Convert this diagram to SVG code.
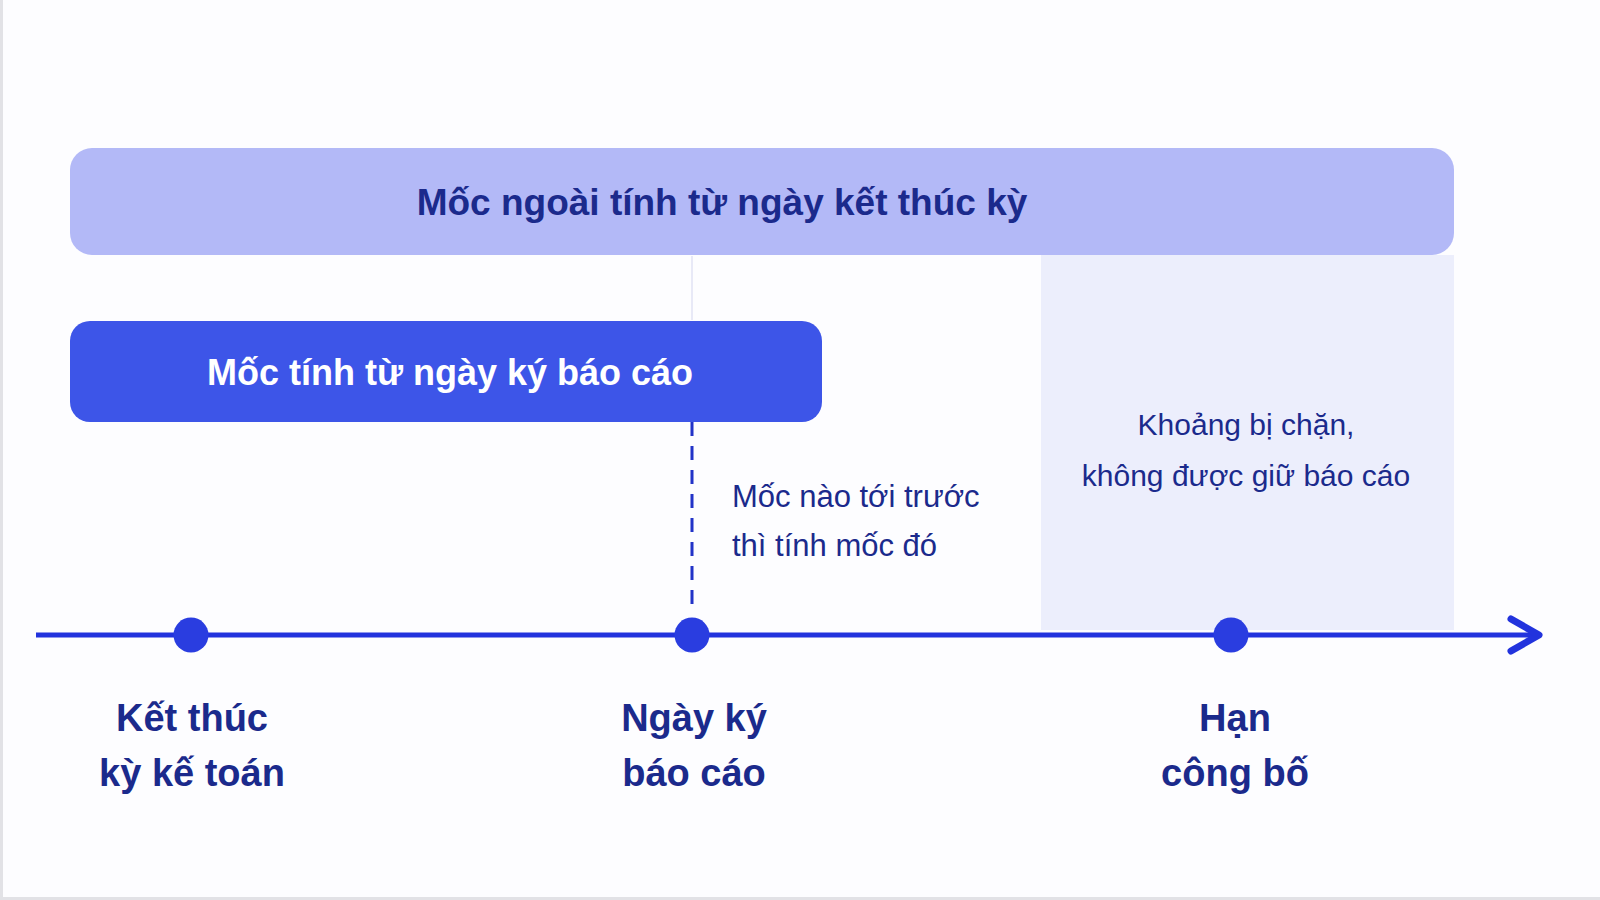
<svg xmlns="http://www.w3.org/2000/svg" width="1600" height="900" viewBox="0 0 1600 900">
  <defs>
    <style>
      .t { font-family: "Liberation Sans", "DejaVu Sans", sans-serif; }
      .title { font-size: 37px; font-weight: bold; fill: #1b2a8c; }
      .bar2 { font-size: 36px; font-weight: bold; fill: #ffffff; }
      .lab { font-size: 38px; font-weight: bold; fill: #1b2a8c; text-anchor: middle; }
      .note { font-size: 31px; fill: #1b2a8c; }
      .note2 { font-size: 30px; fill: #1b2a8c; }
      .dot { fill: #2a3de0; }
    </style>
  </defs>
  <rect x="0" y="0" width="1600" height="900" fill="#fdfdff"/>
  <rect x="0" y="0" width="3" height="900" fill="#e2e2e6"/>
  <rect x="0" y="897" width="1600" height="3" fill="#e2e2e6"/>

  <g id="blocked-zone">
    <rect x="1041" y="255" width="413" height="375" fill="#eceefc"/>
    <text class="t note2" x="1246" y="435" text-anchor="middle">Khoảng bị chặn,</text>
    <text class="t note2" x="1246" y="486" text-anchor="middle">không được giữ báo cáo</text>
  </g>

  <g id="outer-bar">
    <rect x="70" y="148" width="1384" height="107" rx="22" fill="#b3b9f7"/>
    <text class="t title" x="722" y="215" text-anchor="middle">Mốc ngoài tính từ ngày kết thúc kỳ</text>
  </g>

  <g id="connectors">
    <line x1="692" y1="256" x2="692" y2="320" stroke="#e0e2f4" stroke-width="1.5"/>
    <line x1="692" y1="422" x2="692" y2="606" stroke="#2233c8" stroke-width="3" stroke-dasharray="14 10"/>
    <line x1="36" y1="635" x2="1536" y2="635" stroke="#2233dd" stroke-width="5"/>
    <path d="M1511,619 L1539,635 L1511,651" fill="none" stroke="#2233dd" stroke-width="7" stroke-linecap="round" stroke-linejoin="round"/>
  </g>

  <g id="sign-bar">
    <rect x="70" y="321" width="752" height="101" rx="20" fill="#3d55e8"/>
    <text class="t bar2" x="450" y="385" text-anchor="middle">Mốc tính từ ngày ký báo cáo</text>
  </g>

  <g id="note-first">
    <text class="t note" x="732" y="507">Mốc nào tới trước</text>
    <text class="t note" x="732" y="556">thì tính mốc đó</text>
  </g>

  <g id="node-end">
    <circle class="dot" cx="191" cy="635" r="17.5"/>
    <text class="t lab" x="192" y="731">Kết thúc</text>
    <text class="t lab" x="192" y="786">kỳ kế toán</text>
  </g>
  <g id="node-sign">
    <circle class="dot" cx="692" cy="635" r="17.5"/>
    <text class="t lab" x="694" y="731">Ngày ký</text>
    <text class="t lab" x="694" y="786">báo cáo</text>
  </g>
  <g id="node-deadline">
    <circle class="dot" cx="1231" cy="635" r="17.5"/>
    <text class="t lab" x="1235" y="731">Hạn</text>
    <text class="t lab" x="1235" y="786">công bố</text>
  </g>
</svg>
